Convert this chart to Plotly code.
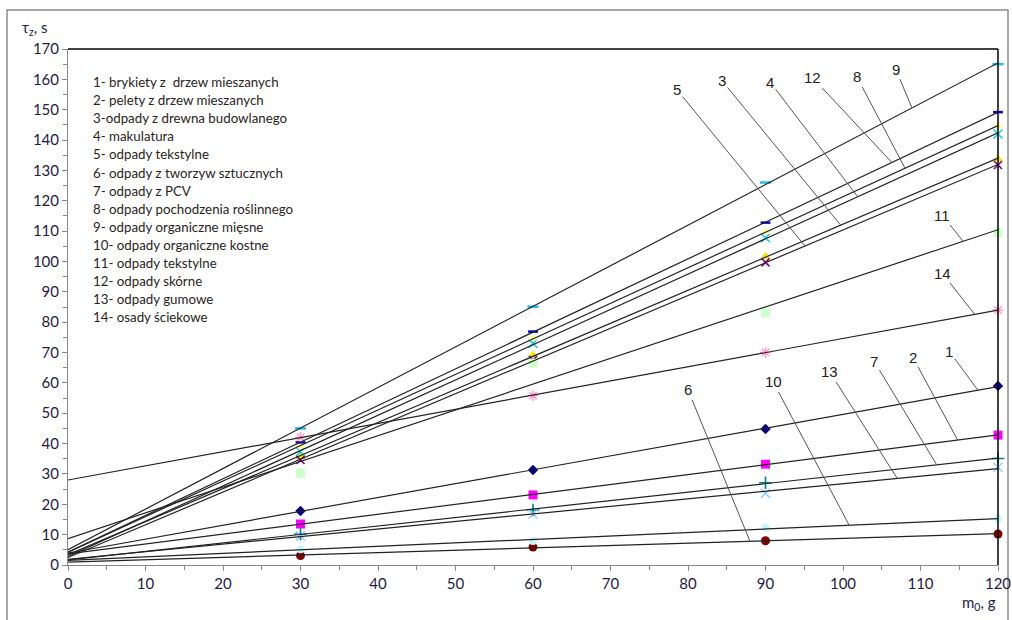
import numpy as np
import plotly.graph_objects as go

# ---------------- data ----------------
m0 = [30, 60, 90, 120]

series_names = [
    "1- brykiety z  drzew mieszanych",
    "2- pelety z drzew mieszanych",
    "3-odpady z drewna budowlanego",
    "4- makulatura",
    "5- odpady tekstylne",
    "6- odpady z tworzyw sztucznych",
    "7- odpady z PCV",
    "8- odpady pochodzenia roślinnego",
    "9- odpady organiczne mięsne",
    "10- odpady organiczne kostne",
    "11- odpady tekstylne",
    "12- odpady skórne",
    "13- odpady gumowe",
    "14- osady ściekowe",
]

s1 = [17.8, 31.3, 44.8, 59.0]
s2 = [13.5, 23.1, 33.2, 42.8]
s3 = [35.7, 69.2, 101.6, 133.8]
s4 = [37.3, 73.0, 107.8, 142.0]
s5 = [34.6, 67.5, 99.7, 131.8]
s6 = [3.1, 5.9, 8.0, 10.2]
s7 = [10.2, 18.1, 27.1, 35.1]
s8 = [39.2, 74.7, 109.8, 144.6]
s9 = [45.0, 85.1, 126.0, 165.0]
s10 = [5.2, 7.9, 12.3, 15.2]
s11 = [30.2, 66.5, 83.0, 109.5]
s12 = [40.4, 76.9, 112.8, 149.2]
s13 = [9.6, 16.8, 23.6, 32.2]
s14 = [42.1, 55.8, 70.0, 84.0]
values = [s1, s2, s3, s4, s5, s6, s7, s8, s9, s10, s11, s12, s13, s14]

x_ticks = list(range(0, 121, 10))
y_ticks = list(range(0, 171, 10))

# ---------------- styles / positions ----------------
marker_styles = [
    dict(symbol="diamond", color="#000080", size=8),
    dict(symbol="square", color="#FF00FF", size=9),
    dict(symbol="triangle-up", color="#F5E600", size=9),
    dict(symbol="x-thin-open", color="#22CCDD", size=9, line=dict(width=1.6, color="#22CCDD")),
    dict(symbol="x-thin-open", color="#800080", size=8, line=dict(width=1.6, color="#800080")),
    dict(symbol="circle", color="#800000", size=9),
    dict(symbol="cross-thin-open", color="#008080", size=9, line=dict(width=1.6, color="#008080")),
    dict(symbol="triangle-up", color="#FFFF99", size=9),
    dict(symbol="line-ew-open", color="#22BBEE", size=8, line=dict(width=2.5, color="#22BBEE")),
    dict(symbol="circle", color="#C8F4FA", size=8),
    dict(symbol="square", color="#CCFFCC", size=9),
    dict(symbol="line-ew-open", color="#0000CC", size=7, line=dict(width=2.5, color="#0000CC")),
    dict(symbol="x-thin-open", color="#99CCFF", size=9, line=dict(width=1.6, color="#99CCFF")),
    dict(symbol="asterisk-open", color="#FF99CC", size=9, line=dict(width=1.4, color="#FF99CC")),
]

# leader label text positions (data units) and x where leader meets the line
label_pos = {
    1: (113.7, 70.5, 117.4),
    2: (109.0, 68.5, 114.8),
    3: (84.4, 159.5, 99.7),
    4: (90.6, 159.1, 101.9),
    5: (78.6, 156.5, 95.1),
    6: (80.0, 57.7, 88.0),
    7: (104.0, 67.2, 112.1),
    8: (101.8, 160.8, 108.0),
    9: (106.8, 163.4, 108.9),
    10: (91.0, 60.3, 100.8),
    11: (112.8, 115.3, 115.5),
    12: (96.1, 160.5, 106.3),
    13: (98.3, 63.6, 107.0),
    14: (112.8, 96.2, 117.0),
}

fig = go.Figure()

fits = []
for vals in values:
    fits.append(np.polyfit(m0, vals, 1))

# markers
for i, vals in enumerate(values):
    fig.add_trace(go.Scatter(x=m0, y=vals, mode="markers", marker=marker_styles[i],
                             showlegend=False, hoverinfo="x+y", name=series_names[i],
                             cliponaxis=False))

# trend lines
for i, (k, b) in enumerate(fits):
    xs = [0, 120]
    ys = [k * xx + b for xx in xs]
    fig.add_trace(go.Scatter(x=xs, y=ys, mode="lines", line=dict(color="#222222", width=1.2),
                             showlegend=False, hoverinfo="skip"))

annotations = []
for num, (lx, ly, tx) in label_pos.items():
    k, b = fits[num - 1]
    annotations.append(dict(
        x=tx, y=k * tx + b, xref="x", yref="y",
        ax=lx, ay=ly, axref="x", ayref="y",
        text=str(num), showarrow=True, arrowhead=0, arrowwidth=1.0,
        arrowcolor="#555555", font=dict(family="Liberation Sans, Arial", size=15, color="#222222"),
    ))

# legend text box
for i, name in enumerate(series_names):
    py = 82 + i * 18.1
    annotations.append(dict(
        x=(91 - 68) / 930, y=(565 - py) / 516, xref="paper", yref="paper",
        xanchor="left", yanchor="middle", showarrow=False, text=name,
        font=dict(family="Lato, Open Sans, sans-serif", size=13.3, color="#2a2420"),
    ))

# axis titles
annotations.append(dict(x=(20 - 68) / 930, y=(565 - 28) / 516, xref="paper", yref="paper",
                        xanchor="left", yanchor="middle", showarrow=False,
                        text="τ<sub>z</sub>, s",
                        font=dict(family="Lato, sans-serif", size=15, color="#222244")))
annotations.append(dict(x=(998 - 68) / 930, y=(565 - 603) / 516, xref="paper", yref="paper",
                        xanchor="right", yanchor="middle", showarrow=False,
                        text="m<sub>0</sub>, g",
                        font=dict(family="Lato, sans-serif", size=15, color="#222244")))

shapes = [
    # top and right border of plot area
    dict(type="line", xref="paper", yref="paper", x0=0, x1=1, y0=1, y1=1,
         line=dict(color="#000000", width=1.5)),
    dict(type="line", xref="paper", yref="paper", x0=1, x1=1, y0=0, y1=1,
         line=dict(color="#000000", width=1.5)),
    # outer frame
    dict(type="rect", xref="paper", yref="paper",
         x0=(7 - 68) / 930, x1=(1008 - 68) / 930,
         y0=(565 - 640) / 516, y1=(565 - 10) / 516,
         line=dict(color="#8a8a8a", width=1.5), layer="below"),
]

tickfont = dict(family="Lato, Open Sans, sans-serif", size=15, color="#1f2040")

fig.update_layout(
    width=1012, height=620,
    margin=dict(l=68, r=14, t=49, b=55, autoexpand=False),
    paper_bgcolor="white", plot_bgcolor="white",
    annotations=annotations, shapes=shapes,
    xaxis=dict(range=[0, 120], tickvals=x_ticks, ticks="outside", ticklen=5,
               tickcolor="#888888", showline=True, linecolor="#888888", linewidth=1,
               showgrid=False, zeroline=False, tickfont=tickfont, automargin=False,
               minor=dict(dtick=5, ticks="outside", ticklen=4, tickcolor="#888888")),
    yaxis=dict(range=[0, 170], tickvals=y_ticks, ticks="outside", ticklen=5,
               tickcolor="#888888", showline=True, linecolor="#888888", linewidth=1,
               showgrid=False, zeroline=False, tickfont=tickfont, automargin=False,
               minor=dict(dtick=5, ticks="outside", ticklen=4, tickcolor="#888888")),
)

fig.write_html(
    "out.html",
    config={"displayModeBar": False},
    post_script="document.body.style.margin='0';document.body.style.padding='0';"
                "document.body.style.overflow='hidden';",
)
